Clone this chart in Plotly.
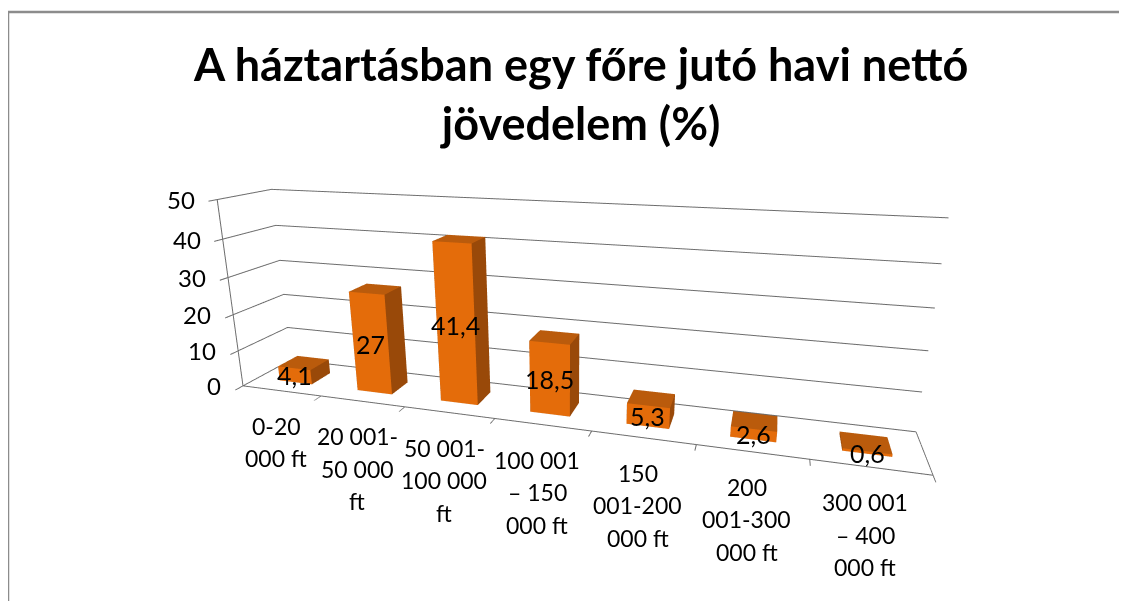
import plotly.graph_objects as go

# ---------------- data ----------------
categories = [
    "0-20<br>000 ft",
    "20 001-<br>50 000<br>ft",
    "50 001-<br>100 000<br>ft",
    "100 001<br>– 150<br>000 ft",
    "150<br>001-200<br>000 ft",
    "200<br>001-300<br>000 ft",
    "300 001<br>– 400<br>000 ft",
]
values = [4.1, 27, 41.4, 18.5, 5.3, 2.6, 0.6]
value_labels = ["4,1", "27", "41,4", "18,5", "5,3", "2,6", "0,6"]
z_ticks = [0, 10, 20, 30, 40, 50]
title_text = "A háztartásban egy főre jutó havi nettó<br>jövedelem (%)"

# ---------------- view / style ----------------
W_FIG, H_FIG = 1119, 593
FONT = "Lato, sans-serif"
GRID = "#6c6c6c"
FRONT = "#E46C0A"
TOP = "#BA5B0C"
SIDE = "#994909"
BAR_HALF = 0.2105
BAR_DEPTH = 0.4107
DEPTH0, DEPTH1 = 0.5 - BAR_DEPTH / 2, 0.5 + BAR_DEPTH / 2
LINE_GAP = 32.5

# ---------------- bars as boxes ----------------
xs, ys, zs, I, J, K, fcol = [], [], [], [], [], [], []
face_spec = [
    ((0, 1, 5), FRONT), ((0, 5, 4), FRONT),
    ((4, 5, 6), TOP), ((4, 6, 7), TOP),
    ((1, 2, 6), SIDE), ((1, 6, 5), SIDE),
    ((0, 3, 7), SIDE), ((0, 7, 4), SIDE),
    ((3, 2, 6), SIDE), ((3, 6, 7), SIDE),
    ((0, 1, 2), SIDE), ((0, 2, 3), SIDE),
]
for idx, v in enumerate(values):
    x0, x1 = idx - BAR_HALF, idx + BAR_HALF
    base = len(xs)
    corners = [
        (x0, DEPTH0, 0), (x1, DEPTH0, 0), (x1, DEPTH1, 0), (x0, DEPTH1, 0),
        (x0, DEPTH0, v), (x1, DEPTH0, v), (x1, DEPTH1, v), (x0, DEPTH1, v),
    ]
    for cx, cy, cz in corners:
        xs.append(cx); ys.append(cy); zs.append(cz)
    for (a, b, c), col in face_spec:
        I.append(base + a); J.append(base + b); K.append(base + c)
        fcol.append(col)

bars = go.Mesh3d(
    x=xs, y=ys, z=zs, i=I, j=J, k=K,
    facecolor=fcol, flatshading=True,
    lighting=dict(ambient=1.0, diffuse=0.0, specular=0.0, roughness=1.0, fresnel=0.0),
    hoverinfo="skip", showscale=False,
)
fig = go.Figure(bars)

# ---------------- annotations ----------------
ann = []
for idx, lab in enumerate(categories):
    for k, line in enumerate(lab.split("<br>")):
        ann.append(dict(x=idx, y=0, z=0, text=line, showarrow=False,
                        xanchor="center", yanchor="middle",
                        xshift=-5, yshift=-(35 + LINE_GAP * k),
                        font=dict(family=FONT, size=23, color="#000000")))
for idx, (v, lab) in enumerate(zip(values, value_labels)):
    ann.append(dict(x=idx, y=DEPTH0, z=v / 2, text=lab, showarrow=False,
                    xanchor="center", yanchor="middle",
                    font=dict(family=FONT, size=25, color="#000000")))
for t in z_ticks:
    ann.append(dict(x=-0.5, y=0, z=t, text=str(t), showarrow=False,
                    xanchor="right", yanchor="middle", xshift=-20,
                    font=dict(family=FONT, size=24, color="#000000")))

common = dict(showbackground=False, showspikes=False, zeroline=False,
              showticklabels=False, title=dict(text=""),
              linecolor=GRID, linewidth=2, tickcolor=GRID, tickwidth=2)

fig.update_layout(
    width=W_FIG, height=H_FIG,
    margin=dict(l=0, r=0, t=0, b=0),
    paper_bgcolor="white",
    template="none",
    showlegend=False,
    scene=dict(
        domain=dict(x=[0, 1], y=[0, 1]),
        xaxis=dict(range=[-0.5, len(values) - 0.5], autorange=False, showgrid=False,
                   showline=True, ticks="outside", ticklen=8,
                   tickvals=[i - 0.5 for i in range(len(values) + 1)], **common),
        yaxis=dict(range=[0, 1], autorange=False, showgrid=False,
                   showline=True, ticks="", **common),
        zaxis=dict(range=[0, 50], autorange=False, showgrid=True,
                   gridcolor=GRID, gridwidth=2, tickvals=z_ticks,
                   showline=True, ticks="outside", ticklen=8, **common),
        aspectmode="manual",
        aspectratio=dict(x=3.3796, y=0.4096, z=1.0),
        camera=dict(eye=dict(x=0.9733, y=-3.1446, z=1.0078),
                    up=dict(x=0, y=0, z=1),
                    center=dict(x=0.0651, y=0, z=0.0413),
                    projection=dict(type="perspective")),
        dragmode=False,
        annotations=ann,
    ),
    annotations=[
        dict(text="<b>" + title_text + "</b>", x=0.512, xref="paper", xanchor="center",
             y=1 - 27 / H_FIG, yref="paper", yanchor="top", showarrow=False,
             font=dict(family=FONT, size=45, color="#000000")),
    ],
    shapes=[dict(type="rect", xref="paper", yref="paper",
                 x0=0, y0=-0.02, x1=1.02, y1=1 - 4 / H_FIG,
                 line=dict(color="#8c8c8c", width=2.5), fillcolor="rgba(0,0,0,0)")],
)

fig.write_html("out.html")
